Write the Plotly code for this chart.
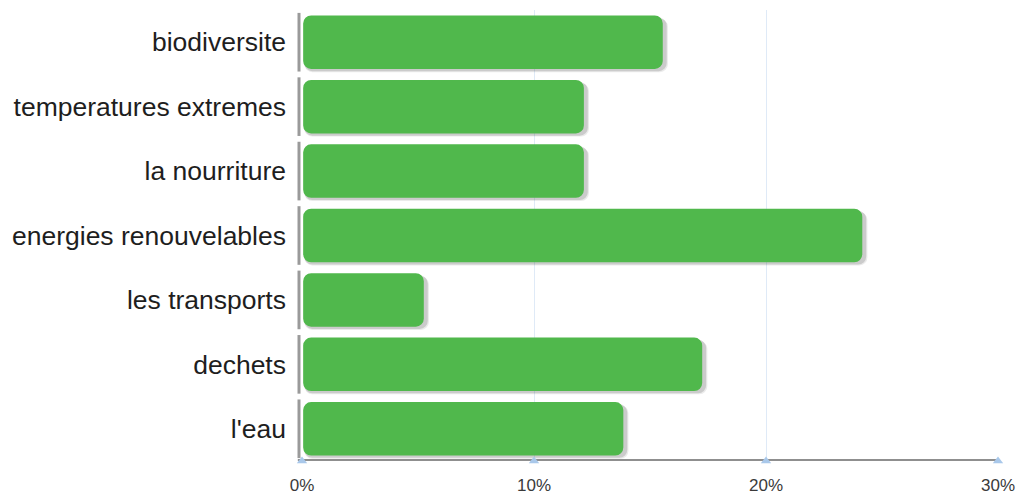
import plotly.graph_objects as go

categories = ["biodiversite", "temperatures extremes", "la nourriture",
              "energies renouvelables", "les transports", "dechets", "l'eau"]
values = [15.5, 12.1, 12.1, 24.1, 5.2, 17.2, 13.8]
tick_vals = [0, 10, 20, 30]
tick_text = ["0%", "10%", "20%", "30%"]

GREEN = "#50b84c"
BAR_W = 0.83

fig = go.Figure()

# soft shadow (offset toward bottom-right)
for k, alpha in enumerate([0.10, 0.18]):
    fig.add_trace(go.Bar(
        y=list(range(len(categories))), x=[v + 0.17 - 0.05 * k for v in values],
        base=0.1, orientation="h", width=BAR_W,
        offset=-BAR_W / 2 + 0.05 - 0.015 * k,
        marker=dict(color=f"rgba(60,60,60,{alpha})", cornerradius=8, line=dict(width=0)),
        hoverinfo="skip", showlegend=False))

fig.add_trace(go.Bar(
    y=list(range(len(categories))), x=values, orientation="h", width=BAR_W,
    base=0.05,
    marker=dict(color=GREEN, cornerradius=8, line=dict(width=0)),
    showlegend=False,
    hovertemplate="%{customdata}: %{x}%<extra></extra>", customdata=categories))

# tick markers on the bottom axis
fig.add_trace(go.Scatter(
    x=tick_vals, y=[len(categories) - 0.5] * len(tick_vals), mode="markers",
    marker=dict(symbol="triangle-up", size=9, color="#a9c8ea"),
    cliponaxis=False, hoverinfo="skip", showlegend=False))

shapes = []
# segmented left axis
for i in range(len(categories)):
    shapes.append(dict(type="line", xref="paper", yref="y",
                       xsizemode="pixel", xanchor=0, x0=-3, x1=-3,
                       y0=i - 0.5 + 0.045, y1=i + 0.5 - 0.045,
                       line=dict(color="#9a9a9a", width=3), layer="above"))
# bottom axis line
shapes.append(dict(type="line", xref="paper", yref="y", x0=-0.006, x1=1,
                   y0=len(categories) - 0.5, y1=len(categories) - 0.5,
                   line=dict(color="#8f8f8f", width=4), layer="below"))

fig.update_layout(
    width=1016, height=494,
    margin=dict(l=302, r=18, t=10, b=33),
    paper_bgcolor="white", plot_bgcolor="white",
    barmode="overlay", bargap=0.17,
    shapes=shapes,
    font=dict(family="Liberation Sans, Arial, sans-serif"),
    xaxis=dict(range=[0, 30], tickvals=tick_vals, ticktext=tick_text,
               showgrid=True, gridcolor="#dfeaf7", gridwidth=1,
               zeroline=False, showline=False, ticks="", automargin=False,
               tickfont=dict(size=17, color="#3a3a3a"), ticklabelstandoff=12,
               fixedrange=True),
    yaxis=dict(range=[len(categories) - 0.5, -0.5],
               tickvals=list(range(len(categories))), ticktext=categories,
               showgrid=False, zeroline=False, showline=False, ticks="",
               automargin=False,
               tickfont=dict(size=26.5, color="#1e1e1e"), ticklabelstandoff=15,
               fixedrange=True),
)

fig.write_html("out.html", config={"displayModeBar": False},
               post_script="document.body.style.margin='0';document.body.style.overflow='hidden';")
